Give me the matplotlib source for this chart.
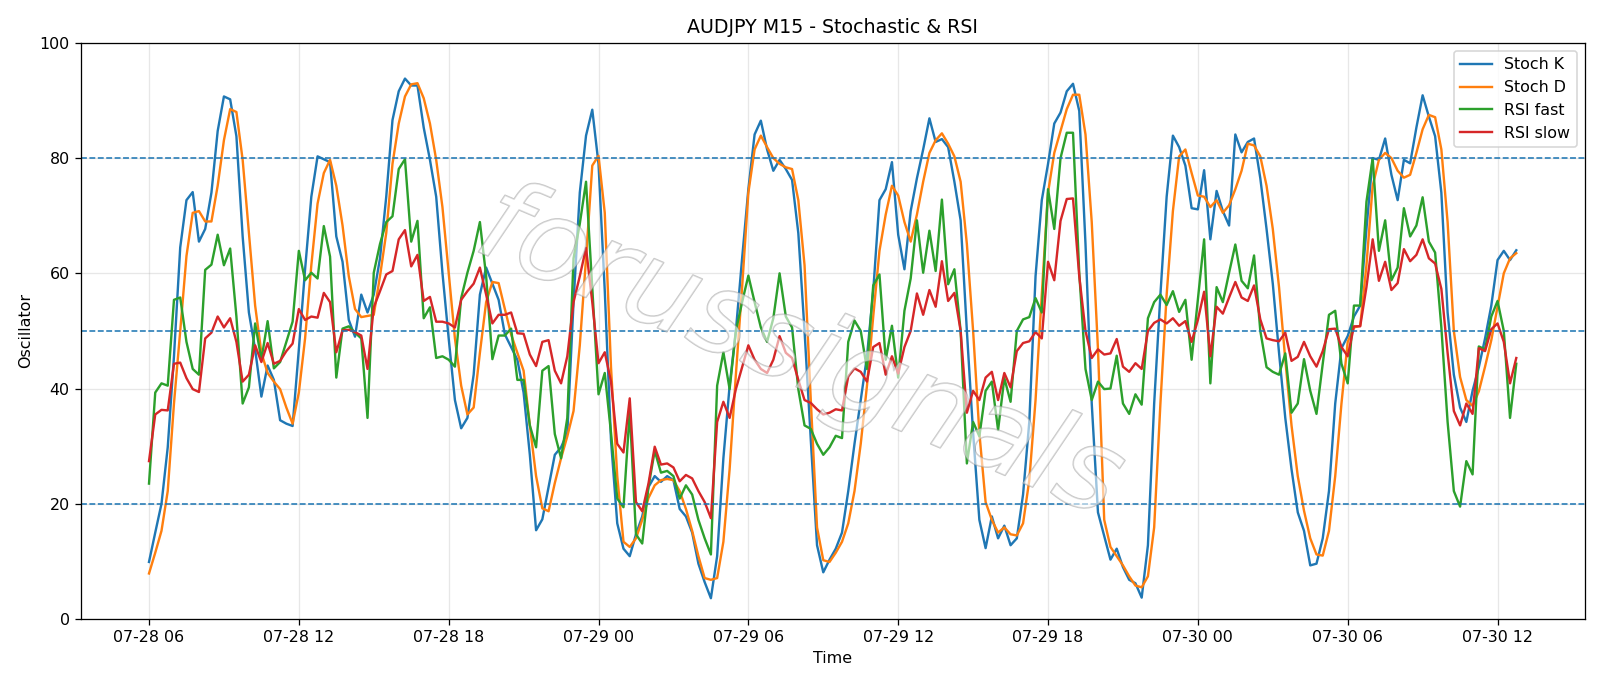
import numpy as np
import pandas as pd
import matplotlib
matplotlib.use("Agg")
import matplotlib.pyplot as plt
import matplotlib.dates as mdates
import matplotlib.patheffects as pe

# AUDJPY M15 oscillators, 220 bars from 07-28 06:00
start = "2025-07-28 06:00"
n_bars = 220

stoch_k = [
    9.9, 15, 20, 29.8, 45.6, 64.5, 72.7, 74.1, 65.5, 67.7, 74, 84.7, 90.7, 90.2, 83.8, 66.4,
    53.2, 46.8, 38.6, 44, 41.5, 34.5, 33.9, 33.5, 46.8, 60.7, 73.3, 80.3, 79.8, 79.3, 66.4, 62,
    51.9, 49, 56.3, 53.2, 56.3, 62.6, 73.3, 86.6, 91.6, 93.8, 92.6, 92.6, 85.3, 79.7, 73.3, 60.1,
    48.7, 38, 33.1, 34.9, 42.4, 56.3, 61, 58.2, 55.4, 49.4, 47.2, 45, 39.3, 28.5, 15.4, 17.3,
    22.9, 28.5, 29.8, 32.3, 55, 74, 83.9, 88.4, 79, 57, 31, 16.6, 12.2, 10.9, 14.7, 17.8,
    22.9, 24.8, 23.8, 24.8, 24.1, 19.1, 17.8, 15, 9.6, 6.4, 3.6, 10.9, 27.9, 40.5, 50, 62.6,
    74.6, 84.1, 86.5, 81.5, 77.8, 79.7, 78.1, 76.2, 67, 50, 31.1, 12.8, 8.1, 10.3, 12.2, 15,
    22.2, 30.4, 38, 45.6, 56.9, 72.7, 74.6, 79.3, 66.7, 60.7, 70.8, 76.5, 81.5, 86.9, 82.8, 83.3,
    81.9, 75.9, 69.2, 50, 32.3, 17.2, 12.3, 17.8, 14, 16.2, 12.8, 14, 21.6, 34.2, 59.5, 72.7,
    79, 86, 87.9, 91.6, 92.9, 88.2, 65.1, 37.4, 18.5, 14.4, 10.3, 12.2, 9, 6.8, 6.2, 3.7,
    12.8, 37.4, 56.3, 73.3, 83.9, 81.9, 78.7, 71.3, 71.1, 77.9, 65.9, 74.3, 70.8, 68.3, 84.1, 81,
    82.8, 83.4, 76.5, 67.7, 58.2, 46.2, 34.9, 26, 18.5, 15.3, 9.3, 9.6, 14, 22.2, 37.4, 47,
    49.1, 52.5, 54.4, 67.7, 80, 79.7, 83.4, 77.1, 72.7, 79.7, 79.1, 85.3, 90.9, 87.2, 83.8, 74,
    53.2, 42.4, 36.7, 34.2, 39.6, 43.7, 48.7, 54.4, 62.3, 63.9, 62.3, 64,
]

stoch_d = [
    7.9, 11.5, 15.3, 22.2, 37.4, 50, 63, 70.5, 70.8, 69, 69, 75.2, 83.1, 88.5, 88, 79.7,
    67, 54.4, 46.2, 42.7, 41.2, 39.9, 36.7, 33.9, 39.3, 48.7, 61.4, 72.1, 77.4, 79.7, 75.2, 68.3,
    59.5, 53.8, 52.4, 52.6, 52.8, 59.5, 67, 79, 86, 90.7, 92.8, 93, 90.4, 86, 79.7, 71.5,
    60.1, 48.7, 40.5, 35.5, 36.7, 46.2, 55, 58.5, 58.3, 53.8, 49.4, 46.2, 43.1, 33.6, 24.8, 19.2,
    18.7, 23.6, 27.9, 31.7, 36.1, 47.5, 62.6, 78.7, 80.4, 70.5, 43.7, 24.8, 13.4, 12.5, 14, 17.2,
    21, 23.2, 24.1, 24.3, 24.1, 22.2, 19.1, 15.3, 10.9, 7.1, 6.8, 7.1, 13.4, 26, 42.4, 57.6,
    74, 81.5, 83.9, 81.9, 80, 79, 78.4, 78.1, 72.7, 61.4, 38, 15.9, 10.2, 9.9, 11.5, 13.4,
    16.6, 22.2, 30.4, 40.5, 52.5, 63.9, 70.2, 75.2, 73.5, 68.9, 65.5, 70.2, 75.9, 80.9, 83.1, 84.3,
    82.5, 80.3, 75.9, 65.1, 50, 32.3, 20.3, 17.2, 15, 15.9, 14.7, 14.5, 16.6, 24.1, 38, 56.3,
    74, 80.9, 84.7, 88.5, 91, 91, 84.1, 68.9, 46.8, 17.2, 12.5, 10.9, 9.3, 7.4, 5.8, 5.5,
    7.4, 15.9, 37.4, 56.3, 70.8, 80.3, 81.5, 77.4, 73.5, 73.3, 71.5, 72.7, 70.5, 71.8, 74.6, 77.8,
    82.5, 82.2, 80.3, 75.2, 67.7, 57.6, 45, 33.6, 24.8, 18.8, 14, 11.2, 11, 15.3, 24.8, 37.4,
    48.1, 50.6, 50.9, 61.4, 75.2, 79.7, 80.9, 80, 77.8, 76.6, 77.1, 80.9, 85, 87.5, 87.1, 81.5,
    68.9, 50, 42, 38, 37, 39.5, 43.8, 48.4, 54.2, 60, 62.6, 63.5,
]

rsi_fast = [
    23.5, 39.3, 40.9, 40.5, 55.4, 55.8, 48.1, 43.4, 42.4, 60.6, 61.5, 66.7, 61.4, 64.3, 52.5, 37.4,
    40.2, 51.3, 45, 51.7, 43.5, 44.6, 48.1, 51.6, 63.9, 58.8, 60.1, 59.1, 68.2, 62.9, 41.9, 50.4,
    50.8, 49.7, 48.7, 34.9, 60.1, 65.1, 68.9, 69.9, 78.1, 79.8, 65.5, 69.1, 52.2, 54.1, 45.3, 45.6,
    45, 43.8, 55.7, 60.1, 63.9, 68.9, 59.5, 45.1, 49.2, 49.2, 50.4, 41.5, 41.5, 33.6, 29.8, 43.1,
    43.9, 32.1, 27.9, 34.9, 62.6, 68.6, 75.9, 57.6, 39, 42.7, 32.3, 20.9, 19.4, 36.1, 14.7, 13.1,
    22.9, 29.2, 25.4, 25.7, 24.8, 20.9, 23.2, 21.6, 17.2, 14, 11.2, 40.5, 46.3, 39.9, 50, 55,
    59.6, 55, 50.6, 48.1, 52.2, 60, 52.5, 50.6, 39.9, 33.6, 33, 30.4, 28.5, 29.8, 31.8, 31.4,
    48.1, 51.8, 50, 43.4, 57.9, 59.8, 45, 50.9, 41.9, 53.5, 59.1, 69.2, 60.1, 67.4, 60.4, 72.8,
    58.1, 60.7, 50, 27, 34.2, 31.7, 39.6, 41.2, 32.8, 41.8, 37.7, 50, 52, 52.4, 55.7, 53.2,
    74.6, 67.7, 80, 84.4, 84.4, 60.1, 43.4, 38, 41.2, 39.9, 40, 45.7, 37.4, 35.6, 39, 37.2,
    52.2, 55, 56.3, 54.5, 56.9, 53.3, 55.4, 45, 55.5, 65.9, 40.9, 57.6, 55, 60.1, 65, 58.7,
    57.4, 63.1, 50, 43.7, 42.9, 42.4, 46.1, 35.8, 37.4, 45.1, 39.6, 35.6, 44.3, 52.8, 53.5, 44.3,
    40.9, 54.4, 54.4, 72.4, 80, 63.9, 69.2, 58.8, 61, 71.3, 66.4, 68.3, 73.2, 65.5, 63.6, 50.6,
    34.2, 22.2, 19.5, 27.4, 25.1, 47.3, 46.8, 52.5, 55.2, 50, 34.9, 44.3,
]

rsi_slow = [
    27.4, 35.5, 36.3, 36.2, 44.3, 44.5, 41.8, 39.9, 39.4, 48.7, 49.7, 52.5, 50.6, 52.2, 48.1, 41.2,
    42.4, 47.5, 44.6, 47.9, 44.3, 44.8, 46.5, 47.8, 53.8, 51.9, 52.5, 52.3, 56.6, 55, 46.3, 50.1,
    50.2, 49.8, 49.2, 43.4, 54.1, 56.9, 59.8, 60.4, 65.9, 67.5, 61.2, 63.2, 55.2, 55.9, 51.6, 51.6,
    51.3, 50.6, 55.4, 56.9, 58.2, 61, 56.3, 51.3, 52.8, 52.8, 53.2, 49.6, 49.5, 45.9, 43.9, 48.1,
    48.4, 43.1, 40.9, 45.6, 55, 59.5, 64.4, 55, 44.4, 46.3, 41.2, 30.4, 28.9, 38.3, 20.3, 18.7,
    23.5, 29.9, 26.8, 27, 26.3, 23.9, 25, 24.4, 22.2, 20.3, 17.5, 34.2, 37.7, 34.9, 39.9, 43.7,
    47.5, 45, 43.4, 42.7, 45, 49.1, 46.2, 45.3, 41.5, 38, 37.5, 36.4, 35.5, 35.8, 36.4, 36.2,
    42.1, 43.5, 42.9, 41.2, 47.2, 47.9, 42.4, 45.6, 42.6, 47.2, 50, 56.5, 52.8, 57.1, 54.2, 62.1,
    55.2, 56.6, 50, 35.8, 39.6, 38, 41.9, 42.9, 38, 42.7, 40.2, 46.5, 47.9, 48.2, 49.8, 48.7,
    62, 58.8, 69.1, 72.9, 73, 59.5, 50, 45.3, 46.8, 45.9, 46.1, 48.6, 43.8, 42.9, 44.4, 43.4,
    50, 51.4, 52, 51.3, 52.2, 50.9, 51.7, 48.1, 51.9, 56.8, 45.6, 54.2, 53, 55.8, 58.5, 55.8,
    55.2, 57.9, 52, 48.7, 48.4, 48.2, 49.7, 44.8, 45.5, 48.1, 45.6, 43.8, 46.5, 50.3, 50.4, 47.2,
    45.6, 50.8, 50.8, 57.6, 65.9, 58.7, 62, 57.1, 58.3, 64.2, 62.1, 63.2, 65.9, 62.6, 61.7, 57.3,
    46.2, 36.1, 33.6, 37.4, 35.6, 47, 46.5, 50.3, 51.3, 48.1, 40.9, 45.3,
]

levels = [20, 50, 80]
watermark = "forussignals"

times = pd.date_range(start, periods=n_bars, freq="15min")

fig, ax = plt.subplots(figsize=(14, 6.0025), dpi=1600 / 14)
plt.subplots_adjust(left=0.0504, right=0.9904, top=0.9375, bottom=0.0977)

ax.plot(times, stoch_k, label="Stoch K", lw=1.5)
ax.plot(times, stoch_d, label="Stoch D", lw=1.5)
ax.plot(times, rsi_fast, label="RSI fast", lw=1.5)
ax.plot(times, rsi_slow, label="RSI slow", lw=1.5)

for lv in levels:
    ax.axhline(lv, color="tab:blue", linestyle="--", lw=1)

ax.set_ylim(0, 100)
ax.grid(True, alpha=0.3)
ax.xaxis.set_major_locator(mdates.HourLocator(byhour=[0, 6, 12, 18]))
ax.xaxis.set_major_formatter(mdates.DateFormatter("%m-%d %H"))

ax.set_title("AUDJPY M15 - Stochastic & RSI")
ax.set_xlabel("Time")
ax.set_ylabel("Oscillator")
ax.legend(loc="upper right")

# hollow watermark over the lines
ax.text(0.478, 0.46, watermark, transform=ax.transAxes, fontsize=72,
        style="italic", rotation=-23, rotation_mode="anchor",
        ha="center", va="center", color=(1, 1, 1, 0.35), zorder=5,
        path_effects=[pe.Stroke(linewidth=1.0, foreground=(0.6, 0.6, 0.6, 0.55)),
                      pe.Normal()])

fig.savefig("out.png")
